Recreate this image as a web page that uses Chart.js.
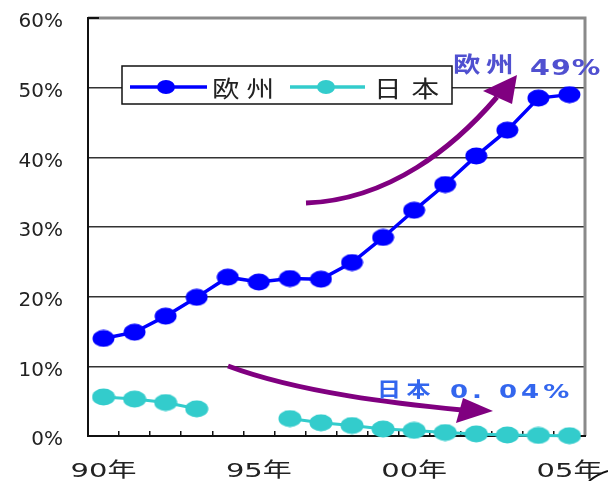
<!DOCTYPE html>
<html>
<head>
<meta charset="utf-8">
<script src="https://cdn.jsdelivr.net/npm/chart.js@4.4.1/dist/chart.umd.min.js"></script>
<style>
  html, body { margin: 0; padding: 0; background: #fff; }
  canvas { display: block; }
</style>
</head>
<body>
<canvas id="c" width="608" height="481"></canvas>
<script>
// Share of the market, 1990–2005 (percent)
const years = ['90','91','92','93','94','95','96','97','98','99','00','01','02','03','04','05'];
const tickLabels = ['90年','','','','','95年','','','','','00年','','','','','05年'];
const seriesNames = ['欧州', '日本'];
const europe = [14.0, 14.9, 17.2, 19.9, 22.8, 22.1, 22.6, 22.5, 24.9, 28.5, 32.4, 36.1, 40.2, 43.9, 48.5, 49];
const japan  = [5.6, 5.3, 4.8, 3.9, null, null, 2.5, 1.9, 1.5, 1.0, 0.8, 0.5, 0.3, 0.15, 0.08, 0.04];

const BLUE = '#0000ff';
const CYAN = '#33cccc';
const PURPLE = '#800080';
const SX = 1.15; // horizontal widening of hand-set CJK text

// Slightly wide elliptical markers
function makeDot(color, w, h) {
  const cv = document.createElement('canvas');
  cv.width = w; cv.height = h;
  const g = cv.getContext('2d');
  g.fillStyle = color;
  g.beginPath();
  g.ellipse(w / 2, h / 2, w / 2 - 0.5, h / 2 - 0.5, 0, 0, Math.PI * 2);
  g.fill();
  return cv;
}

// Draw a run of characters from a left edge, widened by sx, with extra gap between them
function drawRun(ctx, text, left, y, font, color, sx, gap, baseline) {
  ctx.save();
  ctx.font = font;
  ctx.fillStyle = color;
  ctx.textAlign = 'left';
  ctx.textBaseline = baseline || 'middle';
  let x = left;
  for (const ch of text) {
    const w = ctx.measureText(ch).width * sx;
    ctx.save();
    ctx.translate(x, y);
    ctx.scale(sx, 1);
    ctx.fillText(ch, 0, 0);
    ctx.restore();
    x += w + gap;
  }
  ctx.restore();
  return x - gap;
}

// Same, centred on cx
function drawRunCentered(ctx, text, cx, y, font, color, sx, gap, baseline) {
  ctx.save();
  ctx.font = font;
  let total = 0;
  const chars = [...text];
  chars.forEach(ch => { total += ctx.measureText(ch).width * sx; });
  total += gap * (chars.length - 1);
  ctx.restore();
  drawRun(ctx, text, cx - total / 2, y, font, color, sx, gap, baseline);
}

// Plot frame: black left/bottom axes, grey top/right edges
const framePlugin = {
  id: 'frame',
  beforeDatasetsDraw(chart) {
    const { ctx, chartArea: a } = chart;
    ctx.save();
    ctx.lineCap = 'butt';
    ctx.strokeStyle = '#8a8a8a';
    ctx.lineWidth = 3;
    ctx.beginPath();
    ctx.moveTo(a.left, a.top);
    ctx.lineTo(a.right, a.top);
    ctx.lineTo(a.right, a.bottom);
    ctx.stroke();
    ctx.strokeStyle = '#111';
    ctx.lineWidth = 2;
    ctx.beginPath();
    ctx.moveTo(a.left + 11, a.top);
    ctx.lineTo(a.left, a.top);
    ctx.lineTo(a.left, a.bottom);
    ctx.lineTo(a.right + 1, a.bottom);
    ctx.stroke();
    ctx.restore();
  }
};

// Year labels under the axis, placed by the category scale
const yearLabelPlugin = {
  id: 'yearLabels',
  afterDraw(chart) {
    const { ctx } = chart;
    const xs = chart.scales.x;
    tickLabels.forEach((t, i) => {
      if (!t) return;
      drawRunCentered(ctx, t, xs.getPixelForValue(i), 477,
        '20px "DejaVu Sans", "Noto Sans CJK JP"', '#222', 1.45, 0, 'alphabetic');
    });
  }
};

// Legend box, trend arrows and callouts
const notesPlugin = {
  id: 'notes',
  afterDatasetsDraw(chart) {
    const { ctx } = chart;
    ctx.save();

    // legend
    ctx.fillStyle = '#fff';
    ctx.fillRect(122, 66, 330, 38);
    ctx.strokeStyle = '#111';
    ctx.lineWidth = 1.5;
    ctx.strokeRect(122, 66, 330, 38);
    const items = [
      { color: BLUE, x1: 130, x2: 207, dot: 166, label: seriesNames[0], tx: 212, gap: 7 },
      { color: CYAN, x1: 290, x2: 365, dot: 326, label: seriesNames[1], tx: 374, gap: 10 }
    ];
    items.forEach(it => {
      ctx.strokeStyle = it.color;
      ctx.lineWidth = 3.5;
      ctx.beginPath();
      ctx.moveTo(it.x1, 87);
      ctx.lineTo(it.x2, 87);
      ctx.stroke();
      ctx.fillStyle = it.color;
      ctx.beginPath();
      ctx.ellipse(it.dot, 87, 9, 7, 0, 0, Math.PI * 2);
      ctx.fill();
      drawRun(ctx, it.label, it.tx, 88, '23px "Noto Sans CJK JP"', '#222', 1.2, it.gap, 'middle');
    });

    // arrows
    ctx.strokeStyle = PURPLE;
    ctx.fillStyle = PURPLE;
    ctx.lineWidth = 5;
    ctx.lineCap = 'butt';
    ctx.beginPath();
    ctx.moveTo(306, 203);
    ctx.bezierCurveTo(390, 200, 455, 146, 497, 97);
    ctx.stroke();
    ctx.beginPath();
    ctx.moveTo(517, 75);
    ctx.lineTo(483, 91);
    ctx.lineTo(512, 104);
    ctx.closePath();
    ctx.fill();

    ctx.beginPath();
    ctx.moveTo(228, 366);
    ctx.bezierCurveTo(300, 393, 400, 404, 462, 410);
    ctx.stroke();
    ctx.beginPath();
    ctx.moveTo(493, 411);
    ctx.lineTo(463, 398);
    ctx.lineTo(456, 423);
    ctx.closePath();
    ctx.fill();

    // callouts built from the last values
    const eu = europe[europe.length - 1];
    const jp = japan[japan.length - 1];
    const euColor = '#5050d0';
    const jpColor = '#3366ee';
    drawRun(ctx, seriesNames[0], 453, 64, 'bold 22px "Noto Sans CJK JP"', euColor, 1.25, 5.5, 'middle');
    drawRun(ctx, eu + '%', 530, 75, 'bold 22px "DejaVu Sans"', euColor, 1.3, 1, 'alphabetic');
    drawRun(ctx, seriesNames[1], 377, 389, 'bold 20px "Noto Sans CJK JP"', jpColor, 1.2, 5.5, 'middle');
    drawRun(ctx, String(jp).replace('.', '. ') + '%', 450, 398, 'bold 20px "DejaVu Sans"', jpColor, 1.3, 4, 'alphabetic');

    // stray pen stroke at the lower right corner
    ctx.strokeStyle = '#111';
    ctx.lineWidth = 2;
    ctx.beginPath();
    ctx.moveTo(589, 481);
    ctx.quadraticCurveTo(598, 474, 608, 471);
    ctx.stroke();

    ctx.restore();
  }
};

function noScalePadding(scale) {
  scale.paddingTop = 0;
  scale.paddingBottom = 0;
  scale.paddingLeft = 0;
  scale.paddingRight = 0;
}

const chart = new Chart(document.getElementById('c'), {
  type: 'line',
  data: {
    labels: years,
    datasets: [
      {
        label: seriesNames[1],
        data: japan,
        borderColor: CYAN,
        backgroundColor: CYAN,
        borderWidth: 3,
        pointStyle: makeDot(CYAN, 24, 18),
        pointRadius: 11,
        spanGaps: false,
        tension: 0,
        clip: false
      },
      {
        label: seriesNames[0],
        data: europe,
        borderColor: BLUE,
        backgroundColor: BLUE,
        borderWidth: 3.5,
        pointStyle: makeDot(BLUE, 23, 18),
        pointRadius: 11,
        tension: 0,
        clip: false
      }
    ]
  },
  options: {
    responsive: false,
    animation: false,
    events: [],
    layout: { padding: { top: 18, right: 23, left: 0, bottom: 0 } },
    plugins: {
      legend: { display: false },
      tooltip: { enabled: false },
      title: { display: false }
    },
    scales: {
      x: {
        type: 'category',
        offset: true,
        afterFit(scale) { scale.height = 45; noScalePadding(scale); },
        border: { display: false },
        grid: {
          offset: true,
          drawOnChartArea: false,
          drawTicks: true,
          tickLength: -5,
          color: '#111',
          lineWidth: 1.5
        },
        ticks: {
          display: false,
          autoSkip: false,
          maxRotation: 0,
          minRotation: 0
        }
      },
      y: {
        min: 0,
        max: 60,
        afterFit(scale) { scale.width = 88; noScalePadding(scale); },
        border: { display: false },
        grid: {
          drawTicks: false,
          color: '#333',
          lineWidth: 1.5
        },
        ticks: {
          stepSize: 10,
          padding: 25,
          labelOffset: 4,
          color: '#222',
          font: { family: '"DejaVu Sans"', size: 20 },
          callback: v => v + '%'
        }
      }
    }
  },
  plugins: [framePlugin, notesPlugin, yearLabelPlugin]
});
</script>
</body>
</html>
